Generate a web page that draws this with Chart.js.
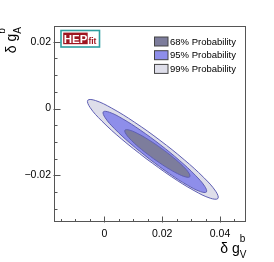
<!DOCTYPE html>
<html>
<head>
<meta charset="utf-8">
<script src="https://cdn.jsdelivr.net/npm/chart.js@4/dist/chart.umd.min.js"></script>
<style>
html,body{margin:0;padding:0;background:#fff;}
canvas{display:block;}
</style>
</head>
<body>
<canvas id="c" width="274" height="262"></canvas>
<script>
// ---- data ----
const seriesLabels = ['68% Probability', '95% Probability', '99% Probability'];
// contour points [delta g_V^b, delta g_A^b]
const contour68 = [
  [0.01704,-0.01504],[0.01285,-0.01225],[0.00949,-0.00965],[0.00748,-0.00762],
  [0.00713,-0.00649],[0.00848,-0.00641],[0.01134,-0.00741],[0.01526,-0.00933],
  [0.01965,-0.01188],[0.02384,-0.01467],[0.02720,-0.01727],[0.02921,-0.01929],
  [0.02956,-0.02043],[0.02821,-0.02050],[0.02535,-0.01951],[0.02143,-0.01759],
  [0.01704,-0.01504]
];
const contour95 = [
  [0.01558,-0.01513],[0.00890,-0.01038],[0.00352,-0.00603],[0.00028,-0.00274],
  [-0.00036,-0.00101],[0.00173,-0.00111],[0.00621,-0.00302],[0.01241,-0.00644],
  [0.01938,-0.01086],[0.02607,-0.01561],[0.03144,-0.01996],[0.03469,-0.02325],
  [0.03532,-0.02498],[0.03324,-0.02488],[0.02876,-0.02297],[0.02256,-0.01955],
  [0.01558,-0.01513]
];
const contour99 = [
  [0.01441,-0.01498],[0.00598,-0.00915],[-0.00081,-0.00378],[-0.00492,0.00030],
  [-0.00572,0.00247],[-0.00309,0.00240],[0.00256,0.00011],[0.01038,-0.00406],
  [0.01918,-0.00948],[0.02761,-0.01532],[0.03440,-0.02068],[0.03850,-0.02476],
  [0.03930,-0.02693],[0.03668,-0.02687],[0.03102,-0.02457],[0.02321,-0.02040],
  [0.01441,-0.01498]
];
const xTickLabels = [0, 0.02, 0.04];
const yTickLabels = [-0.02, 0, 0.02];
const xMinorTicks = [-0.015,-0.01,-0.005,0.005,0.01,0.015,0.025,0.03,0.035,0.045];
const yMinorTicks = [-0.03,-0.025,-0.015,-0.01,-0.005,0.005,0.01,0.015];

// ---- styles ----
const fills = ['#7d7d9c', '#8e8eea', '#dedeea'];
const lineCol = '#5f5fb4';
const FONT = '"Liberation Sans", Arial, sans-serif';

function fmt(v){
  if (Math.abs(v) < 1e-12) return '0';
  return (v < 0 ? '\u2212' : '') + Math.abs(v).toFixed(2);
}

const toPts = arr => arr.map(p => ({x: p[0], y: p[1]}));

function drawTitle(ctx, sub){
  // draws "δ g^b_sub" right-aligned ending at local x=0, baseline y=0
  ctx.font = '10px ' + FONT;
  const wb = ctx.measureText('b').width, ws = ctx.measureText(sub).width;
  const wScript = Math.max(wb, ws);
  ctx.font = '14px ' + FONT;
  const wMain = ctx.measureText('\u03b4 g').width;
  const x0 = -wScript - wMain;
  ctx.fillStyle = '#000';
  ctx.textBaseline = 'alphabetic';
  ctx.textAlign = 'left';
  ctx.fillText('\u03b4 g', x0, 0);
  ctx.font = '10px ' + FONT;
  ctx.fillText('b', x0 + wMain, -11);
  ctx.fillText(sub, x0 + wMain, 5);
}

const deco = {
  id: 'deco',
  beforeDraw(chart){
    const ctx = chart.ctx;
    ctx.save(); ctx.fillStyle = '#fff';
    ctx.fillRect(0, 0, chart.width, chart.height); ctx.restore();
  },
  afterDraw(chart){
    const {ctx, chartArea: a, scales: {x, y}} = chart;
    const L = Math.round(a.left) + 0.5, T = Math.round(a.top) + 0.5;
    const R = Math.round(a.right) - 0.5, B = Math.round(a.bottom) - 0.5;
    ctx.save();
    ctx.strokeStyle = '#555'; ctx.lineWidth = 1;
    ctx.strokeRect(L, T, R - L, B - T);
    ctx.beginPath();
    yTickLabels.forEach(v => { const p = Math.round(y.getPixelForValue(v)) + 0.5; ctx.moveTo(L - 1, p); ctx.lineTo(L + 6, p); });
    yMinorTicks.forEach(v => { const p = Math.round(y.getPixelForValue(v)) + 0.5; ctx.moveTo(L, p); ctx.lineTo(L + 3, p); });
    xTickLabels.forEach(v => { const p = Math.round(x.getPixelForValue(v)) + 0.5; ctx.moveTo(p, B + 1); ctx.lineTo(p, B - 5); });
    xMinorTicks.forEach(v => { const p = Math.round(x.getPixelForValue(v)) + 0.5; ctx.moveTo(p, B); ctx.lineTo(p, B - 2.5); });
    ctx.stroke();

    // legend
    const ds = chart.data.datasets;
    ctx.font = '9.5px ' + FONT; ctx.textBaseline = 'middle'; ctx.textAlign = 'left';
    ds.forEach((d, i) => {
      const by = 37 + i * 13.7;
      ctx.fillStyle = d.backgroundColor;
      ctx.fillRect(154.5, by, 13.5, 9);
      ctx.strokeStyle = '#444'; ctx.lineWidth = 1;
      ctx.strokeRect(154.5, by, 13.5, 9);
      ctx.fillStyle = '#000';
      ctx.fillText(d.label, 170, by + 5);
    });

    // HEPfit logo
    ctx.fillStyle = '#fff';
    ctx.fillRect(61, 30.5, 38.5, 16.5);
    ctx.strokeStyle = '#2e9fa0'; ctx.lineWidth = 1.6;
    ctx.strokeRect(61, 30.5, 38.5, 16.5);
    ctx.fillStyle = '#9e1620';
    ctx.fillRect(63.2, 32.6, 24.5, 11.6);
    ctx.fillStyle = '#fff'; ctx.font = 'bold 11.5px ' + FONT; ctx.textBaseline = 'alphabetic';
    ctx.fillText('HEP', 63.8, 42.8);
    ctx.fillStyle = '#9e1620'; ctx.font = 'bold 8.5px ' + FONT;
    ctx.fillText('fit', 88.4, 44.2);

    // axis titles
    ctx.save(); ctx.translate(246.5, 253); drawTitle(ctx, 'V'); ctx.restore();
    ctx.save(); ctx.translate(15.5, 27); ctx.rotate(-Math.PI / 2); drawTitle(ctx, 'A'); ctx.restore();
    ctx.restore();
  }
};

const mk = (i, pts) => ({
  label: seriesLabels[i], data: toPts(pts), showLine: true, fill: 'shape',
  backgroundColor: fills[i], borderColor: lineCol, borderWidth: 1,
  pointRadius: 0, tension: 0.4
});

new Chart(document.getElementById('c'), {
  type: 'scatter',
  data: { datasets: [mk(0, contour68), mk(1, contour95), mk(2, contour99)] },
  options: {
    responsive: false, animation: false, devicePixelRatio: 1,
    layout: { padding: { top: 26, right: 28, left: 0, bottom: 0 } },
    plugins: { legend: { display: false }, tooltip: { enabled: false } },
    scales: {
      x: {
        type: 'linear', min: -0.01739, max: 0.04899,
        grid: { display: false, drawTicks: false }, border: { display: false },
        afterBuildTicks: s => { s.ticks = xTickLabels.map(v => ({value: v})); },
        afterFit: s => { s.height = 40; },
        ticks: { padding: 6, color: '#000', font: { family: FONT, size: 10.5 }, callback: v => fmt(v), maxRotation: 0, autoSkip: false }
      },
      y: {
        type: 'linear', min: -0.03398, max: 0.0247,
        grid: { display: false, drawTicks: false }, border: { display: false },
        afterBuildTicks: s => { s.ticks = yTickLabels.map(v => ({value: v})); },
        afterFit: s => { s.width = 54; },
        ticks: { padding: 3, color: '#000', font: { family: FONT, size: 10.5 }, callback: v => fmt(v), autoSkip: false }
      }
    }
  },
  plugins: [deco]
});
</script>
</body>
</html>
